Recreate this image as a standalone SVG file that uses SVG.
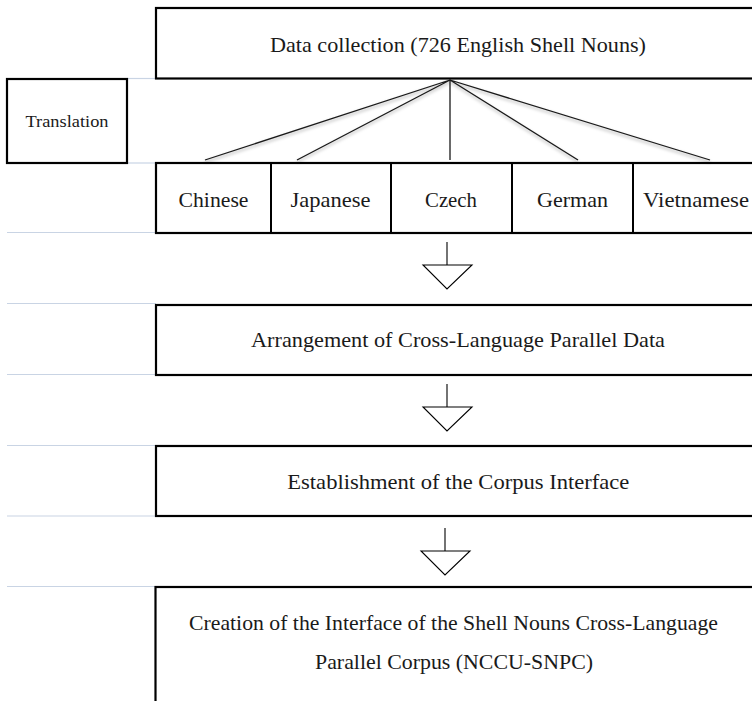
<svg xmlns="http://www.w3.org/2000/svg" width="752" height="701" viewBox="0 0 752 701">
<style>
.box{fill:#fff;stroke:#000;stroke-width:2.2}
.div{stroke:#000;stroke-width:2}
.grid{stroke:#c9d4e4;stroke-width:1.2}
.t{font-family:"Liberation Serif","Times New Roman",serif;font-size:21px;fill:#1a1a1a;text-anchor:middle}
.ts{font-family:"Liberation Serif","Times New Roman",serif;font-size:17px;fill:#1a1a1a;text-anchor:middle}
.fan{stroke:#1a1a1a;stroke-width:1.3;fill:none}
.fansh{stroke:#000;stroke-opacity:0.18;stroke-width:2.5;fill:none}
.arr{stroke:#000;stroke-width:1.1;fill:#fff}
</style>
<defs>
<filter id="blur" x="-5%" y="-50%" width="110%" height="200%"><feGaussianBlur stdDeviation="1.5"/></filter>
</defs>
<rect width="752" height="701" fill="#fff"/>
<g id="gridlines">
<line class="grid" x1="127" y1="78.5" x2="156" y2="78.5"/>
<line class="grid" x1="127" y1="163" x2="156" y2="163"/>
<line class="grid" x1="7" y1="232.5" x2="156" y2="232.5"/>
<line class="grid" x1="7" y1="303.5" x2="156" y2="303.5"/>
<line class="grid" x1="7" y1="374.5" x2="156" y2="374.5"/>
<line class="grid" x1="7" y1="445.5" x2="156" y2="445.5"/>
<line class="grid" x1="7" y1="516" x2="156" y2="516"/>
<line class="grid" x1="7" y1="586.5" x2="156" y2="586.5"/>
</g>
<g id="data-collection">
<rect class="box" x="156" y="8" width="610" height="70.5"/>
<text class="t" x="458" y="51.5" textLength="376" lengthAdjust="spacingAndGlyphs">Data collection (726 English Shell Nouns)</text>
</g>
<g id="translation">
<rect class="box" x="7" y="79" width="120" height="84"/>
<text class="ts" x="67" y="127" textLength="83" lengthAdjust="spacingAndGlyphs">Translation</text>
</g>
<g id="languages">
<rect class="box" x="156" y="163" width="610" height="70"/>
<line class="div" x1="271" y1="163" x2="271" y2="233"/>
<line class="div" x1="391" y1="163" x2="391" y2="233"/>
<line class="div" x1="512" y1="163" x2="512" y2="233"/>
<line class="div" x1="633" y1="163" x2="633" y2="233"/>
</g>
<g id="chinese"><text class="t" x="213.5" y="206.5" textLength="70" lengthAdjust="spacingAndGlyphs">Chinese</text></g>
<g id="japanese"><text class="t" x="330.5" y="206.5" textLength="80" lengthAdjust="spacingAndGlyphs">Japanese</text></g>
<g id="czech"><text class="t" x="451" y="206.5" textLength="52" lengthAdjust="spacingAndGlyphs">Czech</text></g>
<g id="german"><text class="t" x="572.5" y="206.5" textLength="71" lengthAdjust="spacingAndGlyphs">German</text></g>
<g id="vietnamese"><text class="t" x="696" y="206.5" textLength="106" lengthAdjust="spacingAndGlyphs">Vietnamese</text></g>
<g id="arrangement">
<rect class="box" x="156" y="305" width="610" height="70"/>
<text class="t" x="458" y="347" textLength="414" lengthAdjust="spacingAndGlyphs">Arrangement of Cross-Language Parallel Data</text>
</g>
<g id="establishment">
<rect class="box" x="156" y="446" width="610" height="70"/>
<text class="t" x="458.3" y="489" textLength="342" lengthAdjust="spacingAndGlyphs">Establishment of the Corpus Interface</text>
</g>
<g id="creation">
<rect class="box" x="155.5" y="587" width="610" height="130"/>
<text class="t" x="453.5" y="629.5" textLength="529" lengthAdjust="spacingAndGlyphs">Creation of the Interface of the Shell Nouns Cross-Language</text>
<text class="t" x="454" y="669" textLength="278" lengthAdjust="spacingAndGlyphs">Parallel Corpus (NCCU-SNPC)</text>
</g>
<g id="connectors">
<g filter="url(#blur)">
<path class="fansh" d="M450 82 L205 162 M450 82 L297 162 M450 82 L578 162 M450 82 L710 162"/>
</g>
<path class="fan" d="M450 80 L205 160 M450 80 L297 160 M450 80 L450 160 M450 80 L578 160 M450 80 L710 160"/>
<line class="arr" x1="447" y1="242" x2="447" y2="265"/>
<polygon class="arr" points="423,265 472,265 447,289"/>
<line class="arr" x1="447" y1="384" x2="447" y2="407"/>
<polygon class="arr" points="423,407 472,407 447,431"/>
<line class="arr" x1="445" y1="528" x2="445" y2="551"/>
<polygon class="arr" points="421,551 470,551 445,575"/>
</g>
</svg>
